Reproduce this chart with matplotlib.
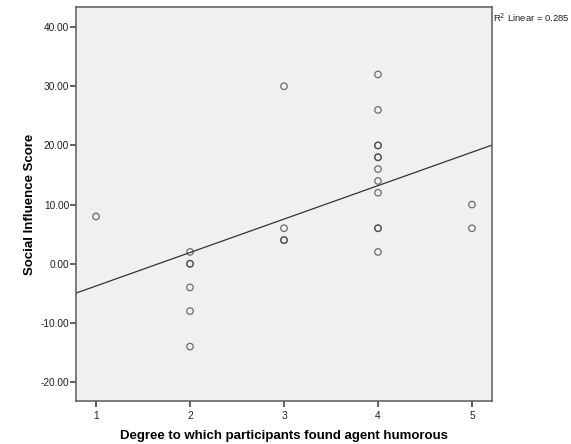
import numpy as np
import matplotlib
matplotlib.use("Agg")
import matplotlib.pyplot as plt

plt.rcParams['font.family'] = ['Liberation Sans', 'DejaVu Sans']

# Data (duplicates appear as darker circles)
humor = [1,
         2, 2, 2, 2, 2, 2,
         3, 3, 3, 3,
         4, 4, 4, 4, 4, 4, 4, 4, 4, 4, 4, 4,
         5, 5]
score = [8,
         2, 0, 0, -4, -8, -14,
         30, 6, 4, 4,
         32, 26, 20, 20, 18, 18, 16, 14, 12, 6, 6, 2,
         10, 6]
x_ticks = [1, 2, 3, 4, 5]
y_ticks = [-20, -10, 0, 10, 20, 30, 40]

x = np.array(humor, dtype=float)
y = np.array(score, dtype=float)
slope, intercept = np.polyfit(x, y, 1)
r2 = np.corrcoef(x, y)[0, 1] ** 2

fig = plt.figure(figsize=(5.71, 4.44), dpi=100)
ax = fig.add_axes([76/571, 1-401/444, (492-76)/571, (401-7)/444])
ax.set_facecolor('#F0F0F0')

xlim = (0.787, 5.213)
ylim = (-23.2, 43.4)
ax.set_xlim(*xlim)
ax.set_ylim(*ylim)

xl = np.array(xlim)
ax.plot(xl, intercept + slope * xl, color='#333333', lw=0.9, zorder=2)

ax.scatter(x, y, s=22, facecolors='none', edgecolors=(0.25, 0.25, 0.25, 0.75),
           linewidths=0.9, zorder=3, clip_on=False)

ax.set_xticks(x_ticks)
ax.set_xticklabels([str(t) for t in x_ticks])
ax.set_yticks(y_ticks)
ax.set_yticklabels([f"{t:.2f}" for t in y_ticks])
ax.tick_params(axis='both', direction='out', length=4, width=1.2, color='#444444',
               labelsize=7.3, labelcolor='#222222', pad=1)
ax.tick_params(axis='x', pad=3.5)
ax.tick_params(top=False, right=False)

for sp in ax.spines.values():
    sp.set_color('#666666')
    sp.set_linewidth(1.2)

ax.set_xlabel('Degree to which participants found agent humorous', fontsize=9.5,
              fontweight='bold', labelpad=6.5)
ax.set_ylabel('Social Influence Score', fontsize=9.5, fontweight='bold', labelpad=3)

fig.text(493/571, 1-18/444, f"R$^2$ Linear = {r2:.3f}", fontsize=6.8,
         ha='left', va='center', color='#222222')

fig.savefig('out.png', dpi=100)
